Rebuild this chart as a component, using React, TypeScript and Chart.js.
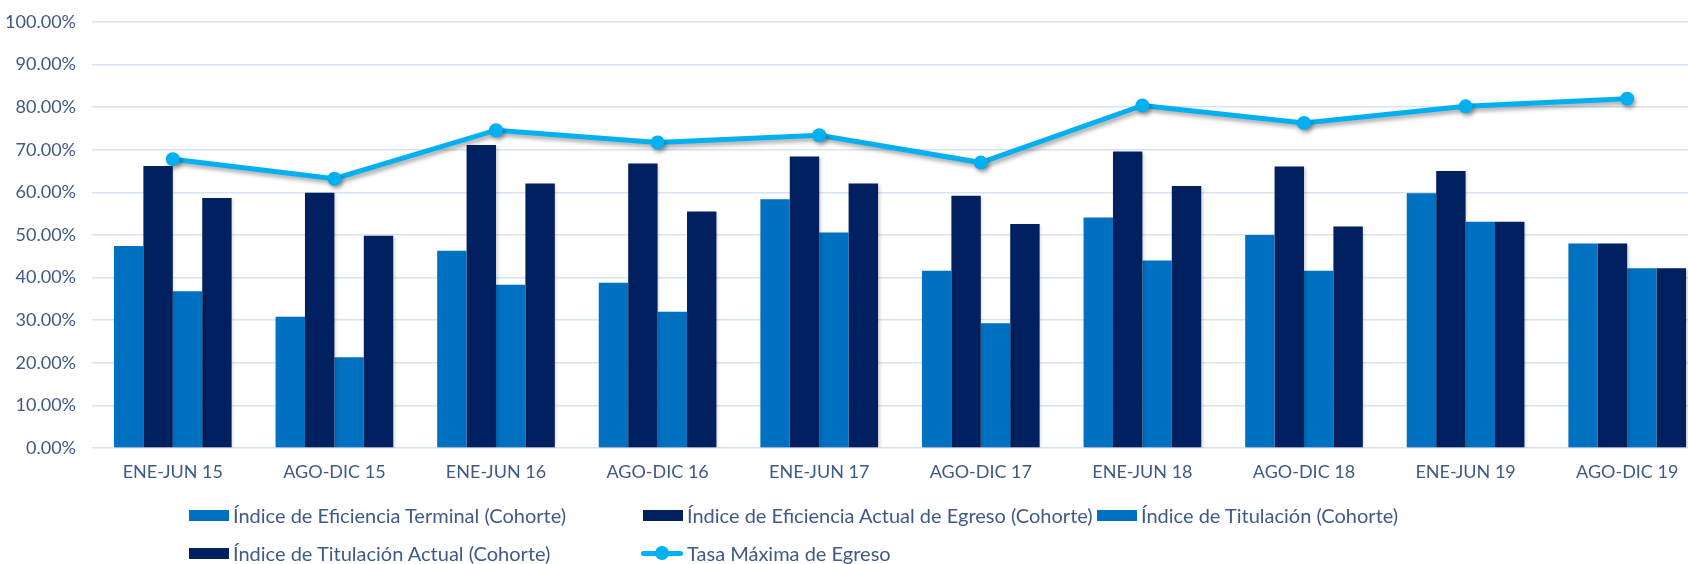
import React, { useEffect, useRef } from "react";
import { Chart, registerables } from "chart.js";

Chart.register(...registerables);

const categories = [
  "ENE-JUN 15", "AGO-DIC 15", "ENE-JUN 16", "AGO-DIC 16", "ENE-JUN 17",
  "AGO-DIC 17", "ENE-JUN 18", "AGO-DIC 18", "ENE-JUN 19", "AGO-DIC 19",
];
const eficienciaTerminal = [47.4, 30.8, 46.3, 38.8, 58.4, 41.6, 54.1, 50.0, 59.8, 48.0];
const eficienciaActual = [66.2, 59.9, 71.1, 66.8, 68.4, 59.2, 69.6, 66.1, 65.0, 48.0];
const titulacion = [36.8, 21.3, 38.3, 32.0, 50.6, 29.3, 44.0, 41.6, 53.1, 42.2];
const titulacionActual = [58.7, 49.8, 62.1, 55.5, 62.1, 52.6, 61.5, 52.0, 53.1, 42.2];
const tasaMaxima = [67.8, 63.2, 74.6, 71.7, 73.4, 67.0, 80.4, 76.3, 80.2, 82.0];

const seriesNames = [
  "Índice de Eficiencia Terminal (Cohorte)",
  "Índice de Eficiencia Actual de Egreso (Cohorte)",
  "Índice de Titulación (Cohorte)",
  "Índice de Titulación Actual (Cohorte)",
  "Tasa Máxima de Egreso",
];

const LIGHT = "#0070C0";
const DARK = "#002060";
const LINE = "#00B0F0";
const GRID = "#D9E2F3";
const TEXT = "#3F5A86";
const TICK_FONT = "Lato, 'Open Sans', sans-serif";
const LEGEND_FONT = "Lato, 'Open Sans', sans-serif";
const PLOT_TOP = 22;

const shadowPlugin = {
  id: "shadows",
  beforeDatasetDraw(chart: any, args: any) {
    const ctx = chart.ctx;
    ctx.save();
    if (args.meta.type === "line") {
      ctx.shadowColor = "rgba(0,0,0,0.35)";
      ctx.shadowBlur = 4;
      ctx.shadowOffsetX = 2;
      ctx.shadowOffsetY = 3;
    } else {
      ctx.shadowColor = "rgba(0,0,0,0.18)";
      ctx.shadowBlur = 3;
      ctx.shadowOffsetX = 1.5;
      ctx.shadowOffsetY = 1;
    }
  },
  afterDatasetDraw(chart: any) {
    chart.ctx.restore();
  },
};

function LegendBox({ color }: { color: string }) {
  return (
    <span style={{ display: "inline-block", width: 40, height: 11, background: color, marginRight: 4, flex: "none" }} />
  );
}

function LegendLine() {
  return (
    <span style={{ position: "relative", display: "inline-block", width: 42, height: 14, marginRight: 4, flex: "none" }}>
      <span style={{ position: "absolute", left: 0, right: 0, top: 5, height: 5, background: LINE, borderRadius: 2.5 }} />
      <span style={{ position: "absolute", left: 14, top: 0, width: 14, height: 14, borderRadius: 7, background: LINE }} />
    </span>
  );
}

export default function App() {
  const canvasRef = useRef<HTMLCanvasElement | null>(null);

  useEffect(() => {
    document.body.style.margin = "0";
    document.body.style.overflow = "hidden";
    const canvas = canvasRef.current;
    if (!canvas) return;
    const chart = new Chart(canvas, {
      type: "bar",
      data: {
        labels: categories,
        datasets: [
          { type: "line", label: seriesNames[4], data: tasaMaxima, borderColor: LINE, backgroundColor: LINE, borderWidth: 5, pointRadius: 7, pointHoverRadius: 7, pointBackgroundColor: LINE, pointBorderWidth: 0, order: 0, tension: 0, clip: false } as any,
          { label: seriesNames[0], data: eficienciaTerminal, backgroundColor: LIGHT, order: 1 },
          { label: seriesNames[1], data: eficienciaActual, backgroundColor: DARK, order: 1 },
          { label: seriesNames[2], data: titulacion, backgroundColor: LIGHT, order: 1 },
          { label: seriesNames[3], data: titulacionActual, backgroundColor: DARK, order: 1 },
        ],
      },
      options: {
        animation: false,
        responsive: true,
        maintainAspectRatio: false,
        layout: { autoPadding: false, padding: { top: PLOT_TOP, right: 0, bottom: 0, left: 0 } } as any,
        datasets: { bar: { barPercentage: 1, categoryPercentage: 0.728 } } as any,
        plugins: { legend: { display: false }, tooltip: { enabled: false } },
        scales: {
          x: {
            grid: { display: false, drawTicks: false },
            border: { display: false },
            ticks: { color: TEXT, font: { family: TICK_FONT, size: 18 }, padding: 13, maxRotation: 0, autoSkip: false },
            afterFit(scale: any) {
              scale.height = 116;
              scale.paddingLeft = 0;
              scale.paddingRight = 0;
            },
          },
          y: {
            min: 0,
            max: 100,
            grid: { color: GRID, lineWidth: 1.5, drawTicks: false },
            border: { display: false },
            ticks: {
              stepSize: 10,
              color: TEXT,
              padding: 16,
              font: { family: TICK_FONT, size: 18 },
              callback: (v: any) => Number(v).toFixed(2) + "%",
            },
            afterFit(scale: any) {
              scale.width = 92;
              scale.paddingTop = 0;
              scale.paddingBottom = 0;
            },
          },
        },
      },
      plugins: [shadowPlugin],
    });
    for (let i = 0; i < 3; i++) {
      const diff = PLOT_TOP - chart.chartArea.top;
      if (Math.abs(diff) < 0.3) break;
      const pad = (chart.options.layout as any).padding;
      pad.top = Math.max(0, pad.top + diff);
      chart.update();
    }
    return () => chart.destroy();
  }, []);

  const textStyle: React.CSSProperties = {
    fontFamily: LEGEND_FONT,
    fontSize: 20,
    color: TEXT,
    whiteSpace: "nowrap",
    lineHeight: "24px",
  };
  const item = (left: number, top: number, marker: React.ReactNode, text: string) => (
    <div style={{ position: "absolute", left, top, height: 24, display: "flex", alignItems: "center", ...textStyle }}>
      {marker}
      <span>{text}</span>
    </div>
  );

  return (
    <div style={{ position: "fixed", left: 0, top: 0, width: 1688, height: 564, overflow: "hidden", background: "#fff" }}>
      <div style={{ position: "absolute", left: 0, top: 0, width: 1708, height: 564 }}>
        <canvas ref={canvasRef} />
      </div>
      {item(189, 503, <LegendBox color={LIGHT} />, seriesNames[0])}
      {item(643, 503, <LegendBox color={DARK} />, seriesNames[1])}
      {item(1097, 503, <LegendBox color={LIGHT} />, seriesNames[2])}
      {item(189, 541, <LegendBox color={DARK} />, seriesNames[3])}
      {item(641, 541, <LegendLine />, seriesNames[4])}
    </div>
  );
}
